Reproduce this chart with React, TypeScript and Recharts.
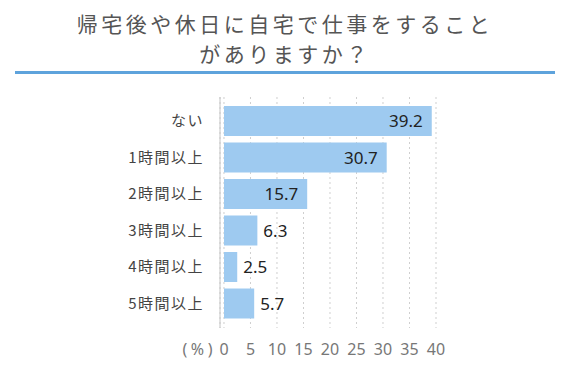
import { BarChart, Bar, XAxis, YAxis, CartesianGrid, LabelList } from 'recharts';

const categories = ['ない', '1時間以上', '2時間以上', '3時間以上', '4時間以上', '5時間以上'];
const values = [39.2, 30.7, 15.7, 6.3, 2.5, 5.7];
const xTicks = [0, 5, 10, 15, 20, 25, 30, 35, 40];
const titleLines = ['帰宅後や休日に自宅で仕事をすること', 'がありますか？'];

const data = categories.map((name, i) => ({ name, value: values[i] }));

const FONT = '"Noto Sans CJK JP", "Noto Sans", sans-serif';

// eslint-disable-next-line @typescript-eslint/no-explicit-any
function CategoryTick({ x, y, payload }: any) {
  return (
    <text x={x - 16} y={y} dy={5} textAnchor="end" fill="#444" fontSize={15}
      fontFamily={FONT} style={{ letterSpacing: 1.5 }}>
      {payload.value}
    </text>
  );
}

// eslint-disable-next-line @typescript-eslint/no-explicit-any
function PercentTick({ x, y, payload }: any) {
  return (
    <g>
      {payload.value === 0 && (
        <text x={x - 8} y={y} dy={27} textAnchor="end" fill="#777" fontSize={16}
          fontFamily='"Noto Sans", sans-serif' style={{ letterSpacing: 3.5 }}>
          (%)
        </text>
      )}
      <text x={x} y={y} dy={27} textAnchor="middle" fill="#777" fontSize={16} fontFamily='"Noto Sans", sans-serif'>
        {payload.value}
      </text>
    </g>
  );
}

// eslint-disable-next-line @typescript-eslint/no-explicit-any
function ValueLabel({ x, y, width, height, value }: any) {
  const inside = value >= 10;
  return (
    <text
      x={inside ? x + width - 9 : x + width + 6}
      y={y + height / 2}
      dy={6}
      textAnchor={inside ? 'end' : 'start'}
      fill="#222"
      fontSize={17}
      fontFamily='"Noto Sans", sans-serif'
    >
      {value}
    </text>
  );
}

export default function App() {
  return (
    <div style={{ position: 'absolute', left: 0, top: 0, width: 570, height: 367, background: '#fff', fontFamily: FONT }}>
      {titleLines.map((t, i) => (
        <div key={i} style={{
          position: 'absolute', left: 0, width: 570, top: 8 + i * 30, textAlign: 'center',
          fontSize: 21, letterSpacing: 3.5, color: '#555', lineHeight: '30px',
        }}>
          {t}
        </div>
      ))}
      <div style={{ position: 'absolute', left: 15, top: 71, width: 540, height: 3, background: '#5ea3dc' }} />
      <div style={{ position: 'absolute', left: 0, top: 0 }}>
        <BarChart width={570} height={367} data={data} layout="vertical"
          margin={{ top: 97, right: 134, bottom: 0, left: 0 }}>
          <CartesianGrid horizontal={false} stroke="#cfcfcf" strokeDasharray="2 3" />
          <XAxis type="number" domain={[-0.75, 40]} ticks={xTicks} axisLine={false} tickLine={false}
            tickSize={0} tickMargin={0} height={39} tick={<PercentTick />} />
          <YAxis type="category" dataKey="name" width={220} stroke="#c4c4c4" tickLine={false}
            tickSize={0} tickMargin={0} padding={{ top: 6, bottom: 6 }} tick={<CategoryTick />} />
          <Bar dataKey="value" fill="#9ecaf0" barSize={30} isAnimationActive={false}>
            <LabelList dataKey="value" content={<ValueLabel />} />
          </Bar>
        </BarChart>
      </div>
    </div>
  );
}
